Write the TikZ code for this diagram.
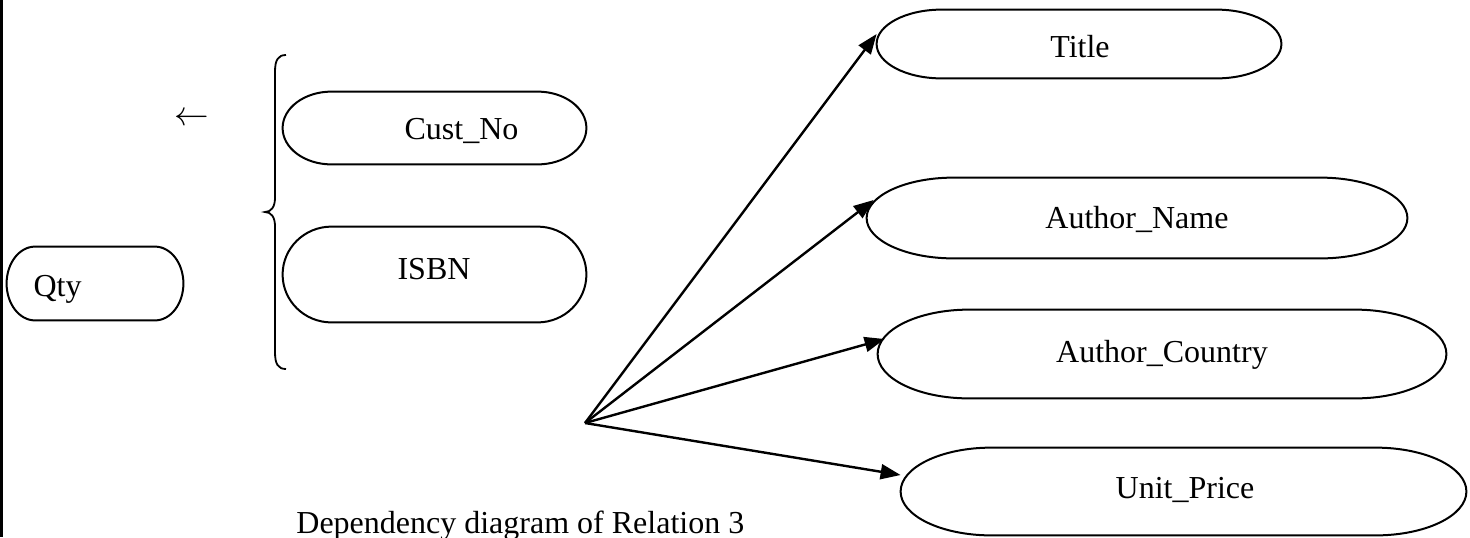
\documentclass[tikz,border=0pt]{standalone}
\usepackage{fontspec}
\setmainfont{Liberation Serif}
\usetikzlibrary{calc,arrows.meta}

% attribute boxes: flowchart "terminator" outline with elliptic ends
\tikzset{
  attrbox/.style 2 args={inner sep=0pt, minimum width={#1*0.5pt}, minimum height={#2*0.5pt}},
  outline/.style={draw=black, line width=1pt},
  lbl/.style={inner sep=0pt, anchor=base},
  dep/.style={line width=1.2pt, -{Triangle[length=10pt,width=7.5pt]}},
}
\newcommand\termoutline[1]{%
  \draw[outline] let \p1=(#1.south west), \p2=(#1.north east),
    \n1={0.1609*(\x2-\x1)}, \n2={(\y2-\y1)/2} in
    ({\x1+\n1*1pt},\y1) -- ({\x2-\n1*1pt},\y1)
    arc[start angle=-90, end angle=90, x radius={\n1*1pt}, y radius={\n2*1pt}]
    -- ({\x1+\n1*1pt},\y2)
    arc[start angle=90, end angle=270, x radius={\n1*1pt}, y radius={\n2*1pt}]
    -- cycle;}

\begin{document}
\begin{tikzpicture}[x=0.5pt, y=-0.5pt, font=\fontsize{16}{19}\selectfont]
  \useasboundingbox (0,0) rectangle (1470,537);

  % rule along the left edge
  \draw[line width=1.5pt] (1.5,0) -- (1.5,537);

  % left group
  \node[attrbox={176}{73}] (qty) at (95,283.5) {};
  \node[attrbox={303}{72}] (cust) at (434.5,128) {};
  \node[attrbox={303}{95}] (isbn) at (434.5,274.5) {};
  \termoutline{qty}
  \termoutline{cust}
  \termoutline{isbn}
  \node[lbl] (qty-t)  at ([shift={(-37.5,12.5)}]qty.center) {Qty};
  \node[lbl] (cust-t) at ([shift={(27,11)}]cust.center) {Cust\_No};
  \node[lbl] (isbn-t) at ([shift={(-0.5,4.5)}]isbn.center) {ISBN};

  \node[inner sep=0pt] (larrow) at (192,119) {$\leftarrow$};

  % brace grouping the key
  \draw[line width=0.9pt] (286,55) .. controls (278,55) and (275,60) .. (275,72)
    -- (275,198) .. controls (275,207) and (271,212) .. (265,212)
    .. controls (271,212) and (275,217) .. (275,226)
    -- (275,352) .. controls (275,364) and (278,369) .. (286,369);

  % right group
  \node[attrbox={404}{68}] (title) at (1079,44) {};
  \node[attrbox={540}{80}] (aname) at (1137,218) {};
  \node[attrbox={568}{88}] (acountry) at (1162,354) {};
  \node[attrbox={565}{87}] (uprice) at (1183.5,491.5) {};
  \termoutline{title}
  \termoutline{aname}
  \termoutline{acountry}
  \termoutline{uprice}
  \node[lbl] (title-t)    at ([shift={(1,13)}]title.center) {Title};
  \node[lbl] (aname-t)    at ([shift={(0,10)}]aname.center) {Author\_Name};
  \node[lbl] (acountry-t) at ([shift={(0,8)}]acountry.center) {Author\_Country};
  \node[lbl] (uprice-t)   at ([shift={(1.5,6.5)}]uprice.center) {Unit\_Price};

  % dependency arrows
  \coordinate (src) at (585,423);
  \draw[dep] (src) -- ($(title.west)+(0,-10)$);
  \draw[dep] (src) -- ($(aname.west)+(7,-18)$);
  \draw[dep] (src) -- ($(acountry.west)+(7,-15)$);
  \draw[dep] (src) -- ($(uprice.west)+(0,-16.5)$);

  \node[lbl, anchor=base west] (caption) at (296,533) {Dependency diagram of Relation 3};
\end{tikzpicture}
\end{document}
